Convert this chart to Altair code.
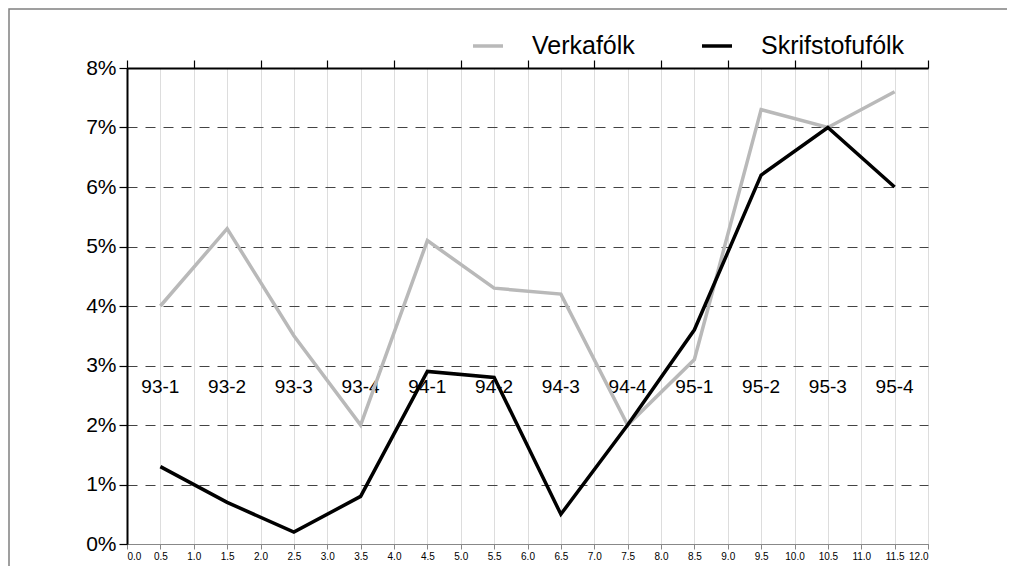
import altair as alt
import pandas as pd

quarters = ["93-1", "93-2", "93-3", "93-4", "94-1", "94-2", "94-3", "94-4",
            "95-1", "95-2", "95-3", "95-4"]
verkafolk = [4.0, 5.3, 3.5, 2.0, 5.1, 4.3, 4.2, 2.0, 3.1, 7.3, 7.0, 7.6]
skrifstofufolk = [1.3, 0.7, 0.2, 0.8, 2.9, 2.8, 0.5, 2.0, 3.6, 6.2, 7.0, 6.0]
series_names = ["Verkafólk", "Skrifstofufólk"]
series_colors = ["#b9b9b9", "#000000"]
y_ticks = [0, 1, 2, 3, 4, 5, 6, 7, 8]

rows = []
for name, vals in zip(series_names, [verkafolk, skrifstofufolk]):
    for i, (q, v) in enumerate(zip(quarters, vals)):
        rows.append({"series": name, "quarter": q, "pos": i + 0.5, "value": v / 100})
df = pd.DataFrame(rows)
labels_df = pd.DataFrame({"quarter": quarters, "pos": [i + 0.5 for i in range(len(quarters))]})

FONT = "Liberation Sans"
W, H = 801, 476
PAD = {"left": 119, "top": 60, "right": 79, "bottom": 22}

# decorative outer frame (left and top edges only), in pixels relative to the plot area
frame_df = pd.DataFrame({
    "order": [0, 1, 2],
    "px": [-118, -118, W + PAD["right"]],
    "py": [H + PAD["bottom"], -59, -59],
})

x_scale = alt.Scale(domain=[0, len(quarters)], nice=False, zero=False)
y_scale = alt.Scale(domain=[0, 0.08], nice=False)

x_axis = alt.Axis(values=list(range(len(quarters) + 1)), labels=False, grid=False,
                  ticks=True, tickSize=8, tickColor="#000", tickWidth=1.2,
                  domainColor="#000", domainWidth=2, title=None)
y_axis = alt.Axis(values=[t / 100 for t in y_ticks], format=".0%", grid=True,
                  gridDash=[10, 8], gridColor="#444", gridWidth=1,
                  tickSize=8, tickColor="#000", tickWidth=1.2,
                  domainColor="#000", domainWidth=2,
                  labelFontSize=21, labelFont=FONT, labelColor="#000",
                  labelPadding=3, title=None)

frame = alt.Chart(frame_df).mark_line(color="#808080", strokeWidth=1.5,
                                      strokeJoin="miter").encode(
    x=alt.X("px:Q", scale=None),
    y=alt.Y("py:Q", scale=None),
    order="order:Q",
)

lines = alt.Chart(df).mark_line(strokeWidth=3.5, strokeJoin="miter", strokeCap="butt").encode(
    x=alt.X("pos:Q", scale=x_scale, axis=x_axis),
    y=alt.Y("value:Q", scale=y_scale, axis=y_axis),
    color=alt.Color("series:N", sort=series_names,
                    scale=alt.Scale(domain=series_names, range=series_colors),
                    legend=alt.Legend(orient="none", legendX=344, legendY=-39,
                                      direction="horizontal", title=None,
                                      symbolType="stroke", symbolStrokeWidth=3.5,
                                      symbolSize=900, labelFontSize=25, labelFont=FONT,
                                      labelColor="#000", labelOffset=27,
                                      columnPadding=60)),
    detail="series:N",
)

labels = alt.Chart(labels_df).mark_text(fontSize=19, font=FONT, color="#000",
                                        baseline="middle", align="center").encode(
    x=alt.X("pos:Q", scale=x_scale),
    y=alt.value(319),
    text="quarter:N",
)

chart = alt.layer(frame, labels, lines).resolve_scale(
    x="independent", y="independent"
).properties(
    width=W, height=H,
    autosize=alt.AutoSizeParams(type="none"),
    padding=PAD,
).configure_view(stroke="#000", strokeWidth=1.5).configure(background="white")

chart.save("out.html", embed_options={"renderer": "svg", "actions": False})
